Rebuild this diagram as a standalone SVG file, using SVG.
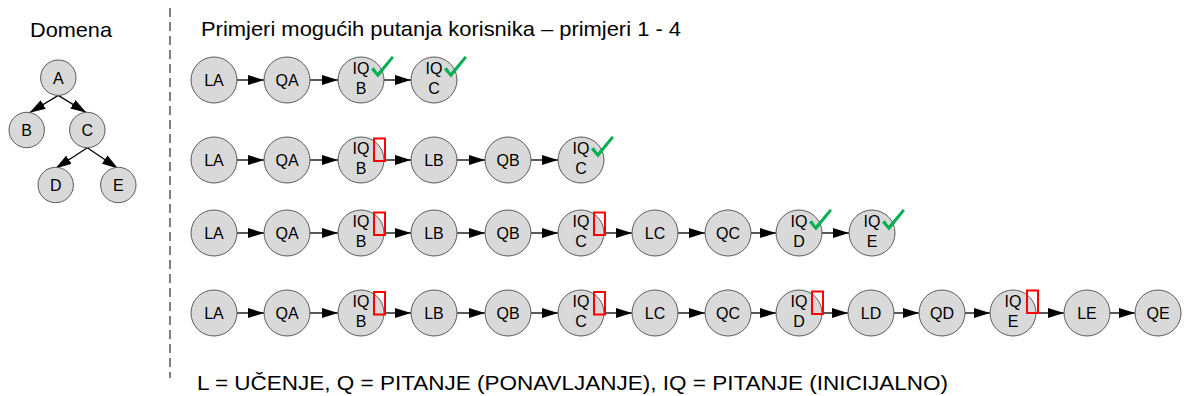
<svg xmlns="http://www.w3.org/2000/svg" xmlns:xlink="http://www.w3.org/1999/xlink" width="1184" height="396" viewBox="0 0 1184 396">
<style>
.n{fill:#d9d9d9;stroke:#595959;stroke-width:1}
.t{font-family:"Liberation Sans",Arial,sans-serif;font-size:16px;fill:#000;text-anchor:middle}
.h{font-family:"Liberation Sans",Arial,sans-serif;font-size:21px;fill:#000}
.c{stroke:#000;stroke-width:1.3;fill:none;marker-end:url(#ah)}
.x{fill:none;stroke:#ff0000;stroke-width:2}
.ok{fill:#00b050}
</style>
<defs>
<marker id="ah" markerUnits="userSpaceOnUse" markerWidth="16" markerHeight="10" refX="16" refY="5" orient="auto" viewBox="0 0 16 10"><path d="M0,0 L16,5 L0,10 z" fill="#000"/></marker>
<path id="chk" d="M10,-10.5 L12.8,-12.8 L16.6,-7.2 L30.8,-24 L33,-22.2 L17,-2.5 Z"/>
</defs>
<rect width="1184" height="396" fill="#fff"/>
<line x1="170" y1="8" x2="170" y2="378" stroke="#000" stroke-width="1" stroke-dasharray="9,5"/>
<text class="h" x="30" y="37" textLength="82" lengthAdjust="spacingAndGlyphs">Domena</text>
<text class="h" x="201" y="36" textLength="480" lengthAdjust="spacingAndGlyphs">Primjeri mogućih putanja korisnika – primjeri 1 - 4</text>
<text class="h" x="197" y="390" textLength="751" lengthAdjust="spacingAndGlyphs">L = UČENJE, Q = PITANJE (PONAVLJANJE), IQ = PITANJE (INICIJALNO)</text>

<g id="connectors">
<line class="c" x1="58.3" y1="95.4" x2="29.5" y2="112.7"/>
<line class="c" x1="58.3" y1="95.4" x2="86.5" y2="112.7"/>
<line class="c" x1="87.3" y1="147.7" x2="55.5" y2="168.5"/>
<line class="c" x1="87.3" y1="147.7" x2="118" y2="168.5"/>
<line class="c" x1="237" y1="80" x2="264" y2="80"/>
<line class="c" x1="310" y1="80" x2="338" y2="80"/>
<line class="c" x1="384" y1="80" x2="411" y2="80"/>
<line class="c" x1="237" y1="160" x2="264" y2="160"/>
<line class="c" x1="310" y1="160" x2="338" y2="160"/>
<line class="c" x1="384" y1="160" x2="411" y2="160"/>
<line class="c" x1="457" y1="160" x2="485" y2="160"/>
<line class="c" x1="531" y1="160" x2="558" y2="160"/>
<line class="c" x1="237" y1="233" x2="264" y2="233"/>
<line class="c" x1="310" y1="233" x2="338" y2="233"/>
<line class="c" x1="384" y1="233" x2="411" y2="233"/>
<line class="c" x1="457" y1="233" x2="485" y2="233"/>
<line class="c" x1="531" y1="233" x2="558" y2="233"/>
<line class="c" x1="604" y1="233" x2="632" y2="233"/>
<line class="c" x1="678" y1="233" x2="705" y2="233"/>
<line class="c" x1="751" y1="233" x2="776" y2="233"/>
<line class="c" x1="822" y1="233" x2="849" y2="233"/>
<line class="c" x1="237" y1="313" x2="264" y2="313"/>
<line class="c" x1="310" y1="313" x2="338" y2="313"/>
<line class="c" x1="384" y1="313" x2="411" y2="313"/>
<line class="c" x1="457" y1="313" x2="485" y2="313"/>
<line class="c" x1="531" y1="313" x2="558" y2="313"/>
<line class="c" x1="604" y1="313" x2="632" y2="313"/>
<line class="c" x1="678" y1="313" x2="705" y2="313"/>
<line class="c" x1="751" y1="313" x2="776" y2="313"/>
<line class="c" x1="822" y1="313" x2="848" y2="313"/>
<line class="c" x1="894" y1="313" x2="919" y2="313"/>
<line class="c" x1="965" y1="313" x2="990" y2="313"/>
<line class="c" x1="1036" y1="313" x2="1064" y2="313"/>
<line class="c" x1="1110" y1="313" x2="1135" y2="313"/>
</g>

<g id="tA"><circle class="n" cx="58.3" cy="77.7" r="17.7"/><text class="t" x="58.3" y="83.5">A</text></g>
<g id="tB"><circle class="n" cx="26.7" cy="130" r="17.7"/><text class="t" x="26.7" y="135.8">B</text></g>
<g id="tC"><circle class="n" cx="87.3" cy="130" r="17.7"/><text class="t" x="87.3" y="135.8">C</text></g>
<g id="tD"><circle class="n" cx="55.7" cy="185" r="17.7"/><text class="t" x="55.7" y="190.8">D</text></g>
<g id="tE"><circle class="n" cx="118.3" cy="185" r="17.7"/><text class="t" x="118.3" y="190.8">E</text></g>

<g id="r1LA"><circle class="n" cx="214" cy="80" r="23"/><text class="t" x="214" y="86">LA</text></g>
<g id="r1QA"><circle class="n" cx="287" cy="80" r="23"/><text class="t" x="287" y="86">QA</text></g>
<g id="r1IQB"><circle class="n" cx="361" cy="80" r="23"/><text class="t" x="361" y="73.5">IQ</text><text class="t" x="361" y="94">B</text><use xlink:href="#chk" class="ok" x="361" y="80"/></g>
<g id="r1IQC"><circle class="n" cx="434" cy="80" r="23"/><text class="t" x="434" y="73.5">IQ</text><text class="t" x="434" y="94">C</text><use xlink:href="#chk" class="ok" x="434" y="80"/></g>

<g id="r2LA"><circle class="n" cx="214" cy="160" r="23"/><text class="t" x="214" y="166">LA</text></g>
<g id="r2QA"><circle class="n" cx="287" cy="160" r="23"/><text class="t" x="287" y="166">QA</text></g>
<g id="r2IQB"><circle class="n" cx="361" cy="160" r="23"/><text class="t" x="361" y="153.5">IQ</text><text class="t" x="361" y="174">B</text><rect class="x" x="374" y="138.5" width="11" height="22.5"/></g>
<g id="r2LB"><circle class="n" cx="434" cy="160" r="23"/><text class="t" x="434" y="166">LB</text></g>
<g id="r2QB"><circle class="n" cx="508" cy="160" r="23"/><text class="t" x="508" y="166">QB</text></g>
<g id="r2IQC"><circle class="n" cx="581" cy="160" r="23"/><text class="t" x="581" y="153.5">IQ</text><text class="t" x="581" y="174">C</text><use xlink:href="#chk" class="ok" x="581" y="160"/></g>

<g id="r3LA"><circle class="n" cx="214" cy="233" r="23"/><text class="t" x="214" y="239">LA</text></g>
<g id="r3QA"><circle class="n" cx="287" cy="233" r="23"/><text class="t" x="287" y="239">QA</text></g>
<g id="r3IQB"><circle class="n" cx="361" cy="233" r="23"/><text class="t" x="361" y="226.5">IQ</text><text class="t" x="361" y="247">B</text><rect class="x" x="374" y="212.5" width="11" height="22.5"/></g>
<g id="r3LB"><circle class="n" cx="434" cy="233" r="23"/><text class="t" x="434" y="239">LB</text></g>
<g id="r3QB"><circle class="n" cx="508" cy="233" r="23"/><text class="t" x="508" y="239">QB</text></g>
<g id="r3IQC"><circle class="n" cx="581" cy="233" r="23"/><text class="t" x="581" y="226.5">IQ</text><text class="t" x="581" y="247">C</text><rect class="x" x="594" y="212.5" width="11" height="22.5"/></g>
<g id="r3LC"><circle class="n" cx="655" cy="233" r="23"/><text class="t" x="655" y="239">LC</text></g>
<g id="r3QC"><circle class="n" cx="728" cy="233" r="23"/><text class="t" x="728" y="239">QC</text></g>
<g id="r3IQD"><circle class="n" cx="799" cy="233" r="23"/><text class="t" x="799" y="226.5">IQ</text><text class="t" x="799" y="247">D</text><use xlink:href="#chk" class="ok" x="799" y="233"/></g>
<g id="r3IQE"><circle class="n" cx="872" cy="233" r="23"/><text class="t" x="872" y="226.5">IQ</text><text class="t" x="872" y="247">E</text><use xlink:href="#chk" class="ok" x="872" y="233"/></g>

<g id="r4LA"><circle class="n" cx="214" cy="313" r="23"/><text class="t" x="214" y="319">LA</text></g>
<g id="r4QA"><circle class="n" cx="287" cy="313" r="23"/><text class="t" x="287" y="319">QA</text></g>
<g id="r4IQB"><circle class="n" cx="361" cy="313" r="23"/><text class="t" x="361" y="306.5">IQ</text><text class="t" x="361" y="327">B</text><rect class="x" x="374" y="292" width="11" height="22.5"/></g>
<g id="r4LB"><circle class="n" cx="434" cy="313" r="23"/><text class="t" x="434" y="319">LB</text></g>
<g id="r4QB"><circle class="n" cx="508" cy="313" r="23"/><text class="t" x="508" y="319">QB</text></g>
<g id="r4IQC"><circle class="n" cx="581" cy="313" r="23"/><text class="t" x="581" y="306.5">IQ</text><text class="t" x="581" y="327">C</text><rect class="x" x="594" y="292" width="11" height="22.5"/></g>
<g id="r4LC"><circle class="n" cx="655" cy="313" r="23"/><text class="t" x="655" y="319">LC</text></g>
<g id="r4QC"><circle class="n" cx="728" cy="313" r="23"/><text class="t" x="728" y="319">QC</text></g>
<g id="r4IQD"><circle class="n" cx="799" cy="313" r="23"/><text class="t" x="799" y="306.5">IQ</text><text class="t" x="799" y="327">D</text><rect class="x" x="812" y="291.5" width="11" height="22.5"/></g>
<g id="r4LD"><circle class="n" cx="871" cy="313" r="23"/><text class="t" x="871" y="319">LD</text></g>
<g id="r4QD"><circle class="n" cx="942" cy="313" r="23"/><text class="t" x="942" y="319">QD</text></g>
<g id="r4IQE"><circle class="n" cx="1013" cy="313" r="23"/><text class="t" x="1013" y="306.5">IQ</text><text class="t" x="1013" y="327">E</text><rect class="x" x="1027" y="290.5" width="11" height="22.5"/></g>
<g id="r4LE"><circle class="n" cx="1087" cy="313" r="23"/><text class="t" x="1087" y="319">LE</text></g>
<g id="r4QE"><circle class="n" cx="1158" cy="313" r="23"/><text class="t" x="1158" y="319">QE</text></g>
</svg>
